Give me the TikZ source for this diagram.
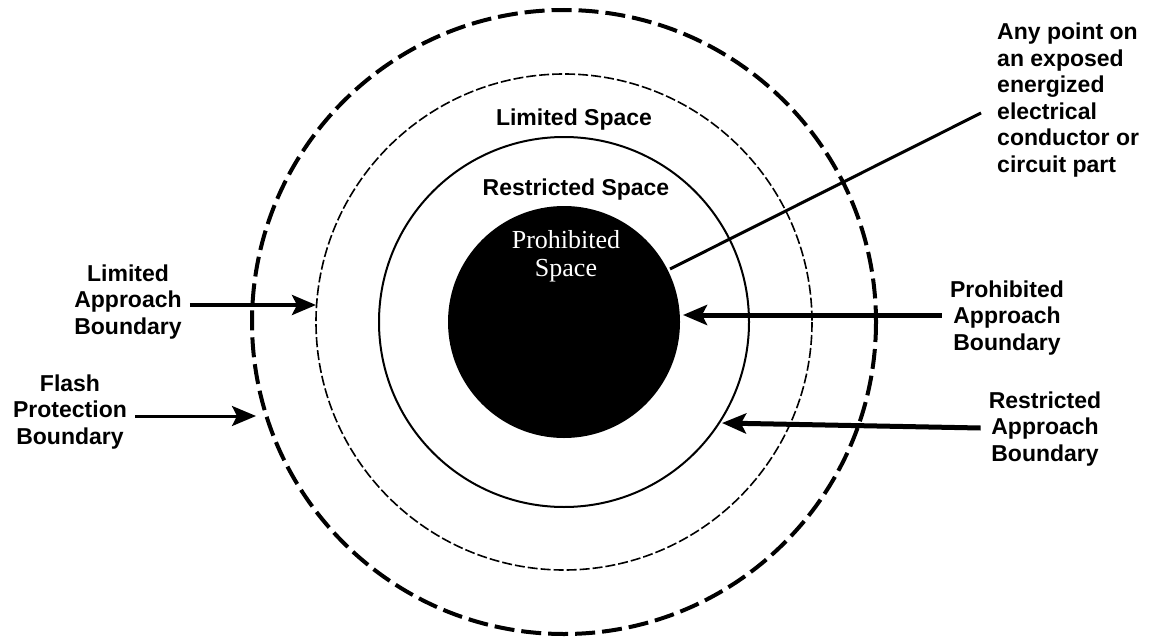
\documentclass[tikz,border=0pt]{standalone}
\usepackage{fontspec}
\setmainfont{Liberation Sans}
\newfontfamily\serifface{Liberation Serif}
\usetikzlibrary{arrows.meta}
\begin{document}
\begin{tikzpicture}[x=1pt,y=-1pt,
  lbl/.style={font=\fontsize{23}{26.5}\selectfont\bfseries, align=center, inner sep=8pt},
  spacelbl/.style={font=\fontsize{23}{26}\selectfont\bfseries, inner sep=0pt},
  arr/.style={-{Stealth[length=24pt,width=20pt,inset=5pt]}, line width=#1},
  arr/.default=4.5pt,
  outerring/.style={line width=4pt, dash pattern=on 20pt off 7pt},
  midring/.style={line width=1.6pt, dash pattern=on 10pt off 3pt},
  innerring/.style={line width=2pt},
  leader/.style={line width=3pt}]
\useasboundingbox[fill=white] (0,0) rectangle (1151,642);
\coordinate (c) at (564,322);
\draw[outerring] (c) circle[radius=312];
\draw[midring] (c) circle[radius=248];
\draw[innerring] (c) circle[radius=185];
\node[circle, fill=black, minimum size=232pt, inner sep=0pt] (disk) at (c) {};
\node[text=white, font=\serifface\fontsize{26}{28}\selectfont, align=center, inner sep=0pt] (pspace) at (566,256) {Prohibited\\Space};
\node[spacelbl] (lspace) at (574,120) {Limited Space};
\node[spacelbl] (rspace) at (576,190) {Restricted Space};
% labels
\node[lbl] (limlab) at (128,302) {Limited\\Approach\\Boundary};
\node[lbl] (flashlab) at (70,412) {Flash\\Protection\\Boundary};
\node[lbl] (prolab) at (1007,318) {Prohibited\\Approach\\Boundary};
\node[lbl] (reslab) at (1045,429) {Restricted\\Approach\\Boundary};
\node[lbl, align=left, anchor=west, inner sep=0pt] (anylab) at (997,100) {Any point on\\an exposed\\energized\\electrical\\conductor or\\circuit part};
% arrow tips and ends
\coordinate (tlim) at (316,305);
\coordinate (tflash) at (256,416);
\coordinate (tpro) at (683,315);
\coordinate (tres) at (722,423);
\coordinate (sres) at (978,428);
\coordinate (lstart) at (981,113);
\coordinate (lend) at (670,269);
\draw[arr=4pt] (limlab.east |- tlim) -- (tlim);
\draw[arr=3pt] (flashlab.east |- tflash) -- (tflash);
\draw[arr=5pt] (prolab.west |- tpro) -- (tpro);
\draw[arr=5pt] (reslab.west |- sres) -- (tres);
\draw[leader] (lstart) -- (lend);
\end{tikzpicture}
\end{document}
